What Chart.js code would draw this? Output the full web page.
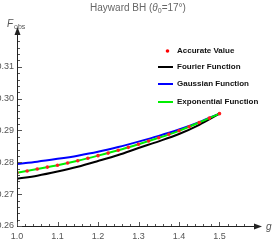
<!DOCTYPE html>
<html><head><meta charset="utf-8">
<script src="https://cdn.jsdelivr.net/npm/chart.js@4/dist/chart.umd.min.js"></script>
<style>html,body{margin:0;padding:0;background:#fff}#c{display:block}</style>
</head><body>
<canvas id="c" width="273" height="245"></canvas>
<script>
const gPoints = [1.0,1.025,1.05,1.075,1.1,1.125,1.15,1.175,1.2,1.225,1.25,1.275,1.3,1.325,1.35,1.375,1.4,1.425,1.45,1.475,1.5];
const accurate = [0.2767,0.2773,0.2779,0.2785,0.2791,0.2798,0.2805,0.2813,0.2821,0.2829,0.2838,0.2847,0.2857,0.2867,0.2877,0.2888,0.2899,0.2912,0.2925,0.2939,0.2953];
const gCurve = [1.0,1.05,1.1,1.15,1.2,1.25,1.3,1.35,1.4,1.45,1.5];
const fourier = [0.2748,0.2758,0.2771,0.2786,0.2804,0.2823,0.2845,0.2866,0.2889,0.2918,0.2953];
const gaussian = [0.2795,0.2802,0.2811,0.2821,0.2833,0.2848,0.2865,0.2883,0.2903,0.2926,0.2953];
const exponential = [0.2767,0.2779,0.2791,0.2805,0.2821,0.2838,0.2857,0.2877,0.2899,0.2925,0.2953];
const xTicks = [1.0,1.1,1.2,1.3,1.4,1.5];
const yTicks = [0.26,0.27,0.28,0.29,0.30,0.31];
const labels = ['Accurate Value','Fourier Function','Gaussian Function','Exponential Function'];

const toXY = (xs, ys) => xs.map((x,i)=>({x, y: ys[i]}));

const deco = {
  id:'deco',
  afterDraw(chart){
    const ctx = chart.ctx, xs = chart.scales.x, ys = chart.scales.y;
    const x0 = xs.getPixelForValue(1.0), y0 = ys.getPixelForValue(0.26);
    const xEnd = xs.getPixelForValue(1.6), yEnd = ys.getPixelForValue(0.32);
    ctx.save();
    ctx.strokeStyle = '#222'; ctx.fillStyle = '#222'; ctx.lineWidth = 1;
    // axes
    ctx.beginPath(); ctx.moveTo(x0, y0+0.5); ctx.lineTo(xEnd-4, y0+0.5);
    ctx.moveTo(x0+0.5, y0); ctx.lineTo(x0+0.5, yEnd-4); ctx.stroke();
    // arrows
    ctx.beginPath(); ctx.moveTo(xEnd+2, y0+0.5); ctx.lineTo(xEnd-6, y0-2.5); ctx.lineTo(xEnd-6, y0+3.5); ctx.closePath(); ctx.fill();
    ctx.beginPath(); ctx.moveTo(x0+0.5, yEnd-8); ctx.lineTo(x0-2.5, yEnd); ctx.lineTo(x0+3.5, yEnd); ctx.closePath(); ctx.fill();
    // ticks
    ctx.strokeStyle = '#555';
    ctx.beginPath();
    for (let k=0;k<=28;k++){
      const v = 1.0 + k*0.02; const p = Math.round(xs.getPixelForValue(v))+0.5;
      const L = (k%5===0)?4:2;
      ctx.moveTo(p, y0); ctx.lineTo(p, y0-L);
    }
    for (let k=0;k<=29;k++){
      const v = 0.26 + k*0.002; const p = Math.round(ys.getPixelForValue(v))+0.5;
      const L = (k%5===0)?4:2;
      ctx.moveTo(x0+1, p); ctx.lineTo(x0+1+L, p);
    }
    ctx.stroke();
    // tick labels
    ctx.fillStyle = '#555'; ctx.font = '9px "Liberation Sans", Arial, sans-serif';
    ctx.textAlign = 'center'; ctx.textBaseline = 'top';
    xTicks.forEach(v => ctx.fillText(v.toFixed(1), xs.getPixelForValue(v), y0+6));
    ctx.textAlign = 'right'; ctx.textBaseline = 'middle';
    yTicks.forEach(v => ctx.fillText(v.toFixed(2), x0-3, ys.getPixelForValue(v)));
    // axis labels
    ctx.font = 'italic 10px "Liberation Sans", Arial, sans-serif';
    ctx.textAlign = 'left'; ctx.textBaseline = 'alphabetic';
    ctx.fillText('g', xEnd+6, y0+4);
    ctx.fillText('F', 7, 27);
    ctx.font = '7px "Liberation Sans", Arial, sans-serif';
    ctx.fillText('obs', 14, 29);
    // title
    ctx.fillStyle = '#666';
    const t1 = 'Hayward BH (', t2 = 'θ', t3 = '0', t4 = '=17°)';
    const fN = '10px "Liberation Sans", Arial, sans-serif', fI = 'italic 10px "Liberation Sans", Arial, sans-serif', fS = '7px "Liberation Sans", Arial, sans-serif';
    ctx.font = fN; const w1 = ctx.measureText(t1).width, w4 = ctx.measureText(t4).width;
    ctx.font = fI; const w2 = ctx.measureText(t2).width;
    ctx.font = fS; const w3 = ctx.measureText(t3).width;
    let tx = 138 - (w1+w2+w3+w4)/2; const ty = 11;
    ctx.font = fN; ctx.fillText(t1, tx, ty); tx += w1;
    ctx.font = fI; ctx.fillText(t2, tx, ty); tx += w2;
    ctx.font = fS; ctx.fillText(t3, tx, ty+2); tx += w3;
    ctx.font = fN; ctx.fillText(t4, tx, ty);
    // legend
    const lx = 177, lys = [51, 67, 84, 102];
    ctx.font = 'bold 8px "Liberation Sans", Arial, sans-serif';
    ctx.textAlign = 'left'; ctx.textBaseline = 'middle';
    const colors = ['#ff0000','#000000','#0000ff','#00ee00'];
    lys.forEach((y,i) => {
      if (i===0){ ctx.fillStyle = colors[0]; ctx.beginPath(); ctx.arc(167.5, y, 1.8, 0, Math.PI*2); ctx.fill(); }
      else { ctx.strokeStyle = colors[i]; ctx.lineWidth = 2; ctx.beginPath(); ctx.moveTo(158, y); ctx.lineTo(173, y); ctx.stroke(); }
      ctx.fillStyle = '#111'; ctx.fillText(labels[i], lx, y);
    });
    ctx.restore();
  }
};

new Chart(document.getElementById('c'), {
  type: 'line',
  data: { datasets: [
    { label: labels[2], data: toXY(gCurve, gaussian), borderColor: '#0000ff', borderWidth: 2, pointRadius: 0, tension: 0.4, cubicInterpolationMode: 'monotone', order: 3 },
    { label: labels[1], data: toXY(gCurve, fourier), borderColor: '#000000', borderWidth: 2, pointRadius: 0, tension: 0.4, cubicInterpolationMode: 'monotone', order: 2 },
    { label: labels[3], data: toXY(gCurve, exponential), borderColor: '#00ee00', borderWidth: 2, pointRadius: 0, tension: 0.4, cubicInterpolationMode: 'monotone', order: 1 },
    { label: labels[0], data: toXY(gPoints, accurate), showLine: false, pointRadius: 1.8, pointBackgroundColor: '#ff2020', pointBorderWidth: 0, borderColor: '#ff2020', order: 0 }
  ]},
  options: {
    responsive: false, animation: false, events: [],
    layout: { padding: { left: 17, right: 13, top: 35, bottom: 19 } },
    plugins: { legend: { display: false }, title: { display: false }, tooltip: { enabled: false } },
    scales: {
      x: { type: 'linear', min: 1.0, max: 1.6, display: false },
      y: { type: 'linear', min: 0.26, max: 0.32, display: false }
    }
  },
  plugins: [deco]
});
</script>
</body></html>
